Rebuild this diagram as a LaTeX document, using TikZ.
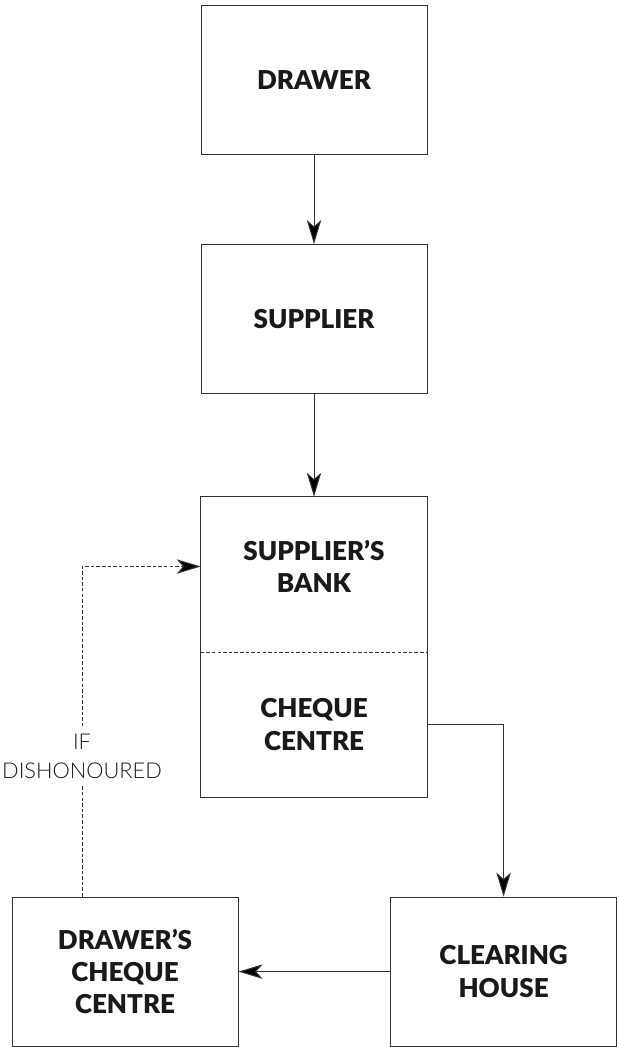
\documentclass[tikz,border=0pt]{standalone}
\usepackage{fontspec}
\setmainfont{Lato}
\newfontfamily\lightfont{Lato Light}
\newfontfamily\heavyfont{Lato Black}
\usetikzlibrary{arrows.meta}
\tikzset{
    box/.style = {draw=black!80, line width=0.7pt, minimum width=5.65cm, minimum height=3.725cm, align=center, text=black!90, font=\fontsize{18.5}{23}\selectfont\heavyfont},
    half/.style = {minimum width=5.65cm, align=center, inner sep=0pt, text=black!90, font=\fontsize{18.5}{23}\selectfont\heavyfont},
    flow/.style = {draw=black!80, line width=0.7pt, -{Stealth[length=6mm, width=3.6mm, inset=1.6mm, fill=black]}},
    dashline/.style = {draw=black!80, line width=0.7pt, dash pattern=on 2.5pt off 1.5pt},
    dashed flow/.style = {flow, dashline}
}

\begin{document}
\begin{tikzpicture}
        \useasboundingbox (0, 0) rectangle (15.475, -26.175);

        \node[box] (drawer) at (7.85, -1.99) {DRAWER};
        \node[box] (supplier) at (7.85, -7.975) {SUPPLIER};
        \node[half, minimum height=3.875cm, text depth=0.4cm] (bank) at (7.85, -14.3625) {SUPPLIER’S\\BANK};
        \node[half, minimum height=3.625cm] (cheque) at (7.85, -18.1125) {CHEQUE\\CENTRE};
        \node[box] (drawerscc) at (3.125, -24.29) {DRAWER’S\\CHEQUE\\CENTRE};
        \node[box] (clearing) at (12.59, -24.29) {CLEARING\\HOUSE};
        \node[align=center, inner xsep=2pt, inner ysep=5pt, text=black!90, font=\fontsize{15.5}{20.6}\selectfont\lightfont] (dishon) at (2.05, -18.9) {IF\\DISHONOURED};

        % bank and cheque centre share one box
        \draw[draw=black!80, line width=0.7pt] (bank.north west) rectangle (cheque.south east);
        \draw[dashline] (bank.south west) -- (bank.south east);

        \draw[flow] (drawer) -- (supplier);
        \draw[flow] (supplier) -- (bank);
        \draw[flow] (cheque.east) -| (clearing.north);
        \draw[flow] (clearing) -- (drawerscc);
        \draw[dashline] (drawerscc.north -| dishon) -- (dishon.south);
        \draw[dashed flow] (dishon.north) |- ([yshift=0.2cm]bank.west);
\end{tikzpicture}
\end{document}
